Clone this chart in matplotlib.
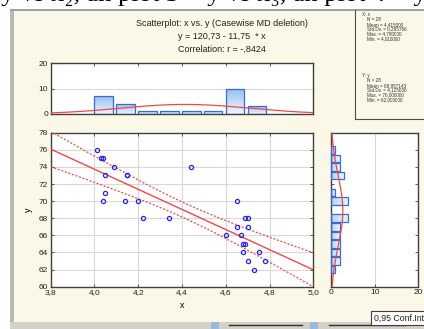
import numpy as np
import matplotlib
matplotlib.use("Agg")
import matplotlib.pyplot as plt
from matplotlib.patches import Rectangle
from matplotlib.lines import Line2D
from matplotlib.colors import LinearSegmentedColormap
from matplotlib.ticker import FuncFormatter

# data (28 cases)
x = np.array([4.01, 4.03, 4.04, 4.09, 4.05, 4.15, 4.15, 4.05, 4.04, 4.14,
              4.20, 4.22, 4.34, 4.44, 4.65, 4.69, 4.70, 4.65, 4.70, 4.60,
              4.67, 4.68, 4.69, 4.68, 4.75, 4.70, 4.78, 4.73])
y = np.array([76, 75, 75, 74, 73, 73, 73, 71, 70, 70,
              70, 68, 68, 74, 70, 68, 68, 67, 67, 66,
              66, 65, 65, 64, 64, 63, 63, 62])

intercept = 120.73
slope = -11.75
t_crit = 2.056  # t(0.975, 26)

x_bin_edges = [4.0, 4.1, 4.2, 4.3, 4.4, 4.5, 4.6, 4.7, 4.8]

title_lines = ["Scatterplot: x vs. y (Casewise MD deletion)",
               "y = 120,73 - 11,75  * x",
               "Correlation: r = -,8424"]
stats_x = ["X: x", "N = 28", "Mean = 4,415000", "Std.Dv. = 0,295766",
           "Max. = 4,780000", "Min. = 4,010000"]
stats_y = ["Y: y", "N = 28", "Mean = 68,857143", "Std.Dv. = 4,125030",
           "Max. = 76,000000", "Min. = 62,000000"]

W, H = 424, 329
CREAM = "#fcf8e8"
RED = "#f04848"
BLUE = "#2626e6"
EDGE = "#3a6ad8"
FRAME = "#404040"

plt.rcParams["font.family"] = ["Liberation Sans", "DejaVu Sans"]

fig = plt.figure(figsize=(W / 100, H / 100), dpi=100)
fig.patch.set_facecolor("white")


def fx(px):
    return px / W


def fy(py):
    return 1 - py / H


def frac_rect(x0, y0, x1, y1, zorder=-10, **kw):
    # rectangle given in picture pixels (top-left origin)
    r = Rectangle((fx(x0), fy(y1)), fx(x1) - fx(x0), fy(y0) - fy(y1),
                  transform=fig.transFigure, zorder=zorder, **kw)
    fig.patches.append(r)
    return r


# window background, borders, bottom bar
frac_rect(10, 10, 424, 329, facecolor=CREAM, edgecolor="none", zorder=-20)
frac_rect(10, 10, 14, 329, facecolor="#b8b8b8", edgecolor="none")
frac_rect(10, 9.5, 424, 11, facecolor="#a0a0a0", edgecolor="none")
frac_rect(10, 322, 424, 329, facecolor="#d4d0c8", edgecolor="none")
frac_rect(211, 322, 219, 329, facecolor="#9bb8e0", edgecolor="none", zorder=-5)
frac_rect(310, 322, 318, 329, facecolor="#9bb8e0", edgecolor="none", zorder=-5)
fig.lines.append(Line2D([fx(229), fx(302)], [fy(324.5)] * 2, color="#303030",
                        lw=1.0, transform=fig.transFigure, zorder=-5))
fig.lines.append(Line2D([fx(329), fx(405)], [fy(324.5)] * 2, color="#303030",
                        lw=1.0, transform=fig.transFigure, zorder=-5))

# cut-off text of the page above the window
fig.text(fx(1), fy(0.8), "y vs x\u2082, an plot 3 = y vs x\u2083, an plot 4 = y",
         family=["Liberation Serif", "DejaVu Serif"], fontsize=19,
         ha="left", va="baseline", color="black")

# titles
for i, line in enumerate(title_lines):
    fig.text(fx(222), fy(24 + i * 12.5), line, ha="center", va="center",
             fontsize=6.5, color="#202020")

# statistics panel
fig.lines.append(Line2D([fx(355), fx(355)], [fy(10), fy(119)], color="#505050",
                        lw=0.8, transform=fig.transFigure))
fig.lines.append(Line2D([fx(355), fx(424)], [fy(119), fy(119)], color="#505050",
                        lw=0.8, transform=fig.transFigure))
for block, top in ((stats_x, 15), (stats_y, 76)):
    for i, line in enumerate(block):
        indent = 362 if i == 0 else 367
        fig.text(fx(indent), fy(top + i * 4.7), line, ha="left", va="center",
                 fontsize=3.3, color="#303030")

# legend box
frac_rect(371, 310.5, 426, 325, facecolor="white", edgecolor="#404040",
          lw=0.8, zorder=3)
fig.text(fx(373.5), fy(318), "0,95 Conf.Int", ha="left", va="center",
         fontsize=6.3, color="#202020", zorder=4)

comma1 = FuncFormatter(lambda v, _: f"{v:.1f}".replace(".", ","))


def style_axes(ax):
    ax.set_facecolor("white")
    for s in ax.spines.values():
        s.set_color(FRAME)
        s.set_linewidth(1.0)
    ax.tick_params(direction="in", length=2.5, width=0.6, colors=FRAME,
                   labelsize=6, labelcolor="#202020", pad=2)


# main scatter
ax = fig.add_axes([fx(50.7), fy(286.7), fx(313.3) - fx(50.7), fy(132.7) - fy(286.7)])
style_axes(ax)
ax.set_xlim(3.8, 5.0)
ax.set_ylim(60, 78)
ax.set_xticks(np.arange(3.8, 5.01, 0.2))
ax.set_yticks(np.arange(60, 79, 2))
ax.xaxis.set_major_formatter(comma1)
ax.tick_params(top=True, right=True)
ax.grid(True, color="#d8d8d8", lw=0.8)
ax.set_axisbelow(True)
ax.set_xlabel("x", fontsize=6.5, labelpad=3)
ax.set_ylabel("y", fontsize=6.5, labelpad=4)

xs = np.linspace(3.8, 5.0, 200)
fit = intercept + slope * xs
n = len(x)
resid = y - (intercept + slope * x)
s = np.sqrt(np.sum(resid ** 2) / (n - 2))
sxx = np.sum((x - x.mean()) ** 2)
band = t_crit * s * np.sqrt(1 / n + (xs - x.mean()) ** 2 / sxx)
ax.plot(xs, fit, color=RED, lw=1.0, zorder=3)
ax.plot(xs, fit + band, color=RED, lw=0.9, ls=(0, (1.6, 1.4)), zorder=3)
ax.plot(xs, fit - band, color=RED, lw=0.9, ls=(0, (1.6, 1.4)), zorder=3)
ax.plot(x, y, "o", ms=3.0, mfc="none", mec=BLUE, mew=0.9, zorder=4)

# top histogram of x
grad = LinearSegmentedColormap.from_list("g", ["#eef5fd", "#93bff3"])
axt = fig.add_axes([fx(50.7), fy(114), fx(313.3) - fx(50.7), fy(63.3) - fy(114)])
style_axes(axt)
axt.set_yticks([0, 10, 20])
axt.set_xticks(np.arange(4.0, 4.81, 0.2))
axt.tick_params(labelbottom=False, bottom=False, top=True)
axt.grid(True, axis="y", color="#d8d8d8", lw=0.8)
axt.set_axisbelow(True)
edges = np.array(x_bin_edges)
counts = np.array([np.sum((x > a + 1e-9) & (x <= b + 1e-9))
                   for a, b in zip(edges[:-1], edges[1:])])
bars = axt.bar(edges[:-1], counts, width=0.085, align="edge",
               facecolor="none", edgecolor=EDGE, lw=0.9, zorder=3)
gimg = np.linspace(0, 1, 50).reshape(-1, 1)
for b in bars:
    x0, w, h = b.get_x(), b.get_width(), b.get_height()
    im = axt.imshow(gimg, extent=[x0, x0 + w, 0, h], origin="lower",
                    aspect="auto", cmap=grad, zorder=2)
    im.set_clip_path(b)
axt.set_xlim(3.8, 5.0)
axt.set_ylim(0, 20)
gx = np.linspace(3.8, 5.0, 200)
sdx = x.std(ddof=1)
axt.plot(gx, n * 0.1 * np.exp(-0.5 * ((gx - x.mean()) / sdx) ** 2) / (sdx * np.sqrt(2 * np.pi)),
         color=RED, lw=0.9, zorder=4)

# right histogram of y
axr = fig.add_axes([fx(331), fy(286.7), fx(418.3) - fx(331), fy(132.7) - fy(286.7)])
style_axes(axr)
axr.set_xticks([0, 10, 20])
axr.set_yticks(np.arange(60, 79, 2))
axr.tick_params(labelleft=False, right=True)
axr.grid(True, axis="x", color="#d8d8d8", lw=0.8)
axr.set_axisbelow(True)
vals, cnts = np.unique(y, return_counts=True)
grad_h = LinearSegmentedColormap.from_list("gh", ["#b5d3f6", "#eef5fd"])
hbars = axr.barh(vals, cnts, height=0.9, facecolor="none", edgecolor=EDGE,
                 lw=0.9, zorder=3)
himg = np.linspace(0, 1, 50).reshape(1, -1)
for b in hbars:
    y0, hh, w = b.get_y(), b.get_height(), b.get_width()
    im = axr.imshow(himg, extent=[0, w, y0, y0 + hh], origin="lower",
                    aspect="auto", cmap=grad_h, zorder=2)
    im.set_clip_path(b)
axr.set_xlim(0, 20)
axr.set_ylim(60, 78)
gy = np.linspace(60, 78, 200)
sdy = y.std(ddof=1)
axr.plot(n * 1.0 * np.exp(-0.5 * ((gy - y.mean()) / sdy) ** 2) / (sdy * np.sqrt(2 * np.pi)), gy,
         color=RED, lw=0.9, zorder=4)

fig.savefig("out.png", dpi=100, facecolor=fig.get_facecolor())
